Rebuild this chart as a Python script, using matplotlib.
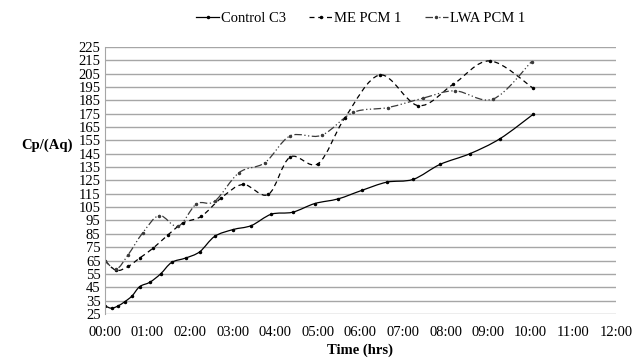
import numpy as np
import matplotlib
matplotlib.use('Agg')
import matplotlib.pyplot as plt
from matplotlib.path import Path
from matplotlib.patches import PathPatch
from matplotlib.lines import Line2D

plt.rcParams['font.family'] = 'serif'
plt.rcParams['font.serif'] = ['Liberation Serif', 'DejaVu Serif']

# time in hours
t_control = [0.00, 0.16, 0.31, 0.47, 0.64, 0.82, 1.06, 1.31, 1.57, 1.90, 2.23, 2.58,
             3.01, 3.44, 3.91, 4.41, 4.93, 5.48, 6.03, 6.62, 7.24, 7.87, 8.57, 9.28, 10.06]
v_control = [31, 29.3, 31, 34.2, 38.5, 45.5, 48.8, 55, 63.6, 66.9, 71.6, 83.1,
             88.2, 91.2, 99.7, 101.2, 107.7, 111.2, 117.5, 123.7, 125.8, 137, 145, 156.3, 174.6]

t_me = [0.00, 0.27, 0.55, 0.82, 1.14, 1.49, 1.84, 2.27, 2.74, 3.25, 3.84, 4.35,
        5.01, 5.64, 6.46, 7.36, 8.18, 9.04, 10.06]
v_me = [65, 57.6, 60.6, 66.9, 74.4, 84.4, 93.2, 98.2, 112, 122, 114.5, 142.5,
        137.6, 172.1, 204, 181, 197, 214.5, 194]

t_lwa = [0.00, 0.27, 0.55, 0.89, 1.28, 1.72, 2.15, 2.58, 3.15, 3.76, 4.35, 5.09,
         5.83, 6.65, 7.47, 8.22, 9.12, 10.02]
v_lwa = [65, 58.6, 69.4, 85.7, 98.7, 90.6, 107.4, 109.4, 130.8, 138.3, 158.3, 158.8,
         175.9, 179.6, 186.6, 192.1, 186, 214]

x_labels = ['%02d:00' % h for h in range(13)]
y_ticks = list(range(25, 226, 10))


def smooth_path(x, y):
    # Excel-style smoothed line: Catmull-Rom segments as cubic Beziers
    p = np.column_stack([x, y])
    verts = [p[0]]
    codes = [Path.MOVETO]
    n = len(p)
    for i in range(n - 1):
        p0 = p[i - 1] if i > 0 else p[i]
        p3 = p[i + 2] if i + 2 < n else p[i + 1]
        c1 = p[i] + (p[i + 1] - p0) / 6
        c2 = p[i + 1] - (p3 - p[i]) / 6
        verts += [c1, c2, p[i + 1]]
        codes += [Path.CURVE4] * 3
    return Path(verts, codes)


fig = plt.figure(figsize=(6.35, 3.58), dpi=100)
ax = fig.add_axes([0.165, 0.123, 0.805, 0.746])

series = [
    (t_control, v_control, 'Control C3', 'black', '-'),
    (t_me, v_me, 'ME PCM 1', 'black', (0, (4, 3))),
    (t_lwa, v_lwa, 'LWA PCM 1', '#3a3a3a', (0, (6, 2, 1, 2, 1, 2))),
]
handles = []
for t, v, name, col, ls in series:
    ax.add_patch(PathPatch(smooth_path(t, v), fill=False, edgecolor=col,
                           lw=0.9, ls=ls))
    ax.plot(t, v, ls='none', marker='o', ms=1.5, color=col)
    handles.append(Line2D([], [], color=col, lw=0.9, ls=ls, marker='o', ms=1.5))

ax.set_xlim(0, 12)
ax.set_ylim(25, 225)
ax.set_xticks(range(13))
ax.set_xticklabels(x_labels, fontsize=10.5)
ax.set_yticks(y_ticks)
ax.set_yticklabels([str(v) for v in y_ticks], fontsize=10.5)
ax.tick_params(length=0, pad=3)
ax.tick_params(axis='x', pad=9)
ax.grid(axis='y', color='#a6a6a6', lw=1)
ax.set_axisbelow(True)
for s in ['top', 'right', 'bottom']:
    ax.spines[s].set_visible(False)
ax.spines['left'].set_color('#a6a6a6')

ax.set_xlabel('Time (hrs)', fontsize=10.5, fontweight='bold', labelpad=3)
ax.set_ylabel('Cp/(Aq)', fontsize=10.5, fontweight='bold', rotation=0,
              labelpad=1, va='center', ha='right')
ax.yaxis.set_label_coords(-0.063, 0.633)

ax.legend(handles, [s[2] for s in series], loc='lower center',
          bbox_to_anchor=(0.5, 1.06), ncol=3, frameon=False, fontsize=10.5,
          handlelength=1.6, handletextpad=0.1, columnspacing=1.6,
          borderaxespad=0)

fig.savefig('out.png', dpi=100)
